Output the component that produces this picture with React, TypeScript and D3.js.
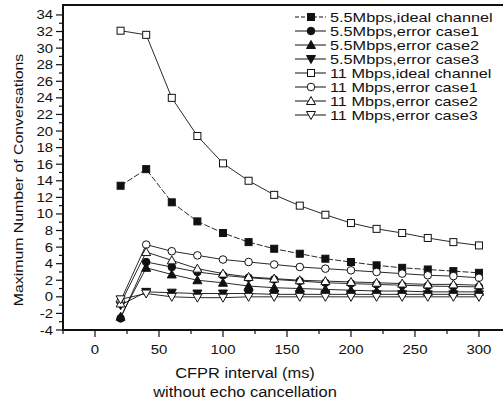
import React, { useRef, useEffect } from 'react';
import * as d3 from 'd3';

const W = 503;
const H = 404;

// CFPR interval (ms)
const intervals = [20, 40, 60, 80, 100, 120, 140, 160, 180, 200, 220, 240, 260, 280, 300];

const ideal55 = [13.4, 15.4, 11.4, 9.1, 7.7, 6.6, 5.8, 5.2, 4.6, 4.2, 3.8, 3.5, 3.3, 3.1, 2.9];
const err1_55 = [-2.6, 4.2, 3.6, 3.0, 2.6, 2.3, 2.1, 1.9, 1.7, 1.6, 1.5, 1.4, 1.3, 1.25, 1.2];
const err2_55 = [-2.4, 3.5, 2.7, 2.0, 1.7, 1.3, 1.1, 1.0, 0.9, 0.8, 0.7, 0.7, 0.6, 0.6, 0.6];
const err3_55 = [-1.0, 0.6, 0.5, 0.4, 0.4, 0.4, 0.3, 0.3, 0.3, 0.3, 0.3, 0.3, 0.3, 0.3, 0.3];
const ideal11 = [32.1, 31.6, 24.0, 19.4, 16.1, 14.0, 12.3, 11.0, 9.9, 8.9, 8.2, 7.7, 7.1, 6.6, 6.2];
const err1_11 = [-0.5, 6.3, 5.5, 5.0, 4.5, 4.2, 3.9, 3.6, 3.4, 3.2, 3.0, 2.8, 2.6, 2.5, 2.3];
const err2_11 = [-0.8, 5.4, 4.4, 3.4, 2.8, 2.4, 2.2, 2.0, 1.9, 1.8, 1.7, 1.6, 1.5, 1.5, 1.4];
const err3_11 = [-0.3, 0.4, 0.0, -0.1, -0.1, 0.0, 0.0, 0.0, 0.0, 0.0, 0.0, 0.0, 0.0, 0.0, 0.0];

const seriesNames = [
  '5.5Mbps,ideal channel',
  '5.5Mbps,error case1',
  '5.5Mbps,error case2',
  '5.5Mbps,error case3',
  '11 Mbps,ideal channel',
  '11 Mbps,error case1',
  '11 Mbps,error case2',
  '11 Mbps,error case3',
];
const seriesValues = [ideal55, err1_55, err2_55, err3_55, ideal11, err1_11, err2_11, err3_11];
const seriesMarkers = ['square', 'circle', 'triUp', 'triDown', 'square', 'circle', 'triUp', 'triDown'];
const seriesFilled = [true, true, true, true, false, false, false, false];

const xTicks = [0, 50, 100, 150, 200, 250, 300];
const yTicks = d3.range(-4, 35, 2);

const FONT = '"Liberation Sans", Arial, sans-serif';

const App = () => {
  const svgRef = useRef(null);

  useEffect(() => {
    const svg = d3.select(svgRef.current);
    svg.selectAll('*').remove();

    const x = d3.scaleLinear().domain([-25, 318]).range([63, 502]);
    const y = d3.scaleLinear().domain([-4, 35.2]).range([330, 5]);

    // glyphs in the scan are wider than Arial, so stretch along the text
    const text = (px, py, str, size, anchor, rot = 0, sx = 1.15) => {
      svg.append('g')
        .attr('transform', `translate(${px},${py}) rotate(${rot}) scale(${sx},1)`)
        .append('text')
        .attr('text-anchor', anchor)
        .attr('font-family', FONT)
        .attr('font-size', size)
        .attr('fill', '#111')
        .text(str);
    };

    // frame
    svg.append('line').attr('x1', 62).attr('x2', W).attr('y1', 5).attr('y2', 5)
      .attr('stroke', '#111').attr('stroke-width', 2);
    svg.append('line').attr('x1', 63).attr('x2', 63).attr('y1', 4).attr('y2', 331)
      .attr('stroke', '#111').attr('stroke-width', 2);
    svg.append('line').attr('x1', 62).attr('x2', W).attr('y1', 330).attr('y2', 330)
      .attr('stroke', '#111').attr('stroke-width', 2);

    // y ticks
    d3.range(-4, 35, 1).forEach(v => {
      const major = v % 2 === 0;
      svg.append('line').attr('x1', 63).attr('x2', major ? 56 : 59)
        .attr('y1', y(v)).attr('y2', y(v)).attr('stroke', '#111').attr('stroke-width', 1.2);
    });
    yTicks.forEach(v => text(53, y(v) + 4.5, String(v), 13, 'end'));

    // x ticks
    d3.range(-25, 318, 25).forEach(v => {
      const major = v % 50 === 0;
      svg.append('line').attr('x1', x(v)).attr('x2', x(v))
        .attr('y1', 330).attr('y2', major ? 337 : 334).attr('stroke', '#111').attr('stroke-width', 1.2);
    });
    xTicks.forEach(v => text(x(v), 354, String(v), 13, 'middle'));

    // axis titles
    text(245, 378, 'CFPR interval (ms)', 14.3, 'middle');
    text(245, 397, 'without echo cancellation', 14.3, 'middle');
    text(23, 180, 'Maximum Number of Conversations', 13.2, 'middle', -90, 1.2);

    const drawMarker = (g, type, filled, cx, cy) => {
      const fill = filled ? '#111' : '#fff';
      if (type === 'square') {
        g.append('rect').attr('x', cx - 3.5).attr('y', cy - 3.5).attr('width', 7).attr('height', 7)
          .attr('fill', fill).attr('stroke', '#111').attr('stroke-width', 1);
      } else if (type === 'circle') {
        g.append('circle').attr('cx', cx).attr('cy', cy).attr('r', 3.8)
          .attr('fill', fill).attr('stroke', '#111').attr('stroke-width', 1);
      } else {
        const up = type === 'triUp' ? 1 : -1;
        const pts = [[cx, cy - 4.5 * up], [cx - 4.5, cy + 3.5 * up], [cx + 4.5, cy + 3.5 * up]];
        g.append('polygon').attr('points', pts.map(p => p.join(',')).join(' '))
          .attr('fill', fill).attr('stroke', '#111').attr('stroke-width', 1);
      }
    };

    const line = d3.line().x(d => x(d[0])).y(d => y(d[1]));

    seriesValues.forEach((vals, i) => {
      const g = svg.append('g');
      const pts = intervals.map((t, j) => [t, vals[j]]);
      g.append('path').attr('d', line(pts)).attr('fill', 'none')
        .attr('stroke', '#111').attr('stroke-width', 0.9)
        .attr('stroke-dasharray', i === 0 ? '6,2' : null);
      pts.forEach(p => drawMarker(g, seriesMarkers[i], seriesFilled[i], x(p[0]), y(p[1])));
    });

    // legend
    seriesNames.forEach((name, i) => {
      const ly = 17 + i * 14;
      const g = svg.append('g');
      g.append('line').attr('x1', 295).attr('x2', 326).attr('y1', ly).attr('y2', ly)
        .attr('stroke', '#111').attr('stroke-width', 1)
        .attr('stroke-dasharray', i === 0 ? '4,2' : null);
      drawMarker(g, seriesMarkers[i], seriesFilled[i], 311, ly);
      text(330, ly + 4.5, name, 12.8, 'start', 0, 1.27);
    });
  }, []);

  return (
    <svg ref={svgRef} width={W} height={H}
      style={{ position: 'absolute', left: 0, top: 0, background: '#fff' }} />
  );
};

export default App;
